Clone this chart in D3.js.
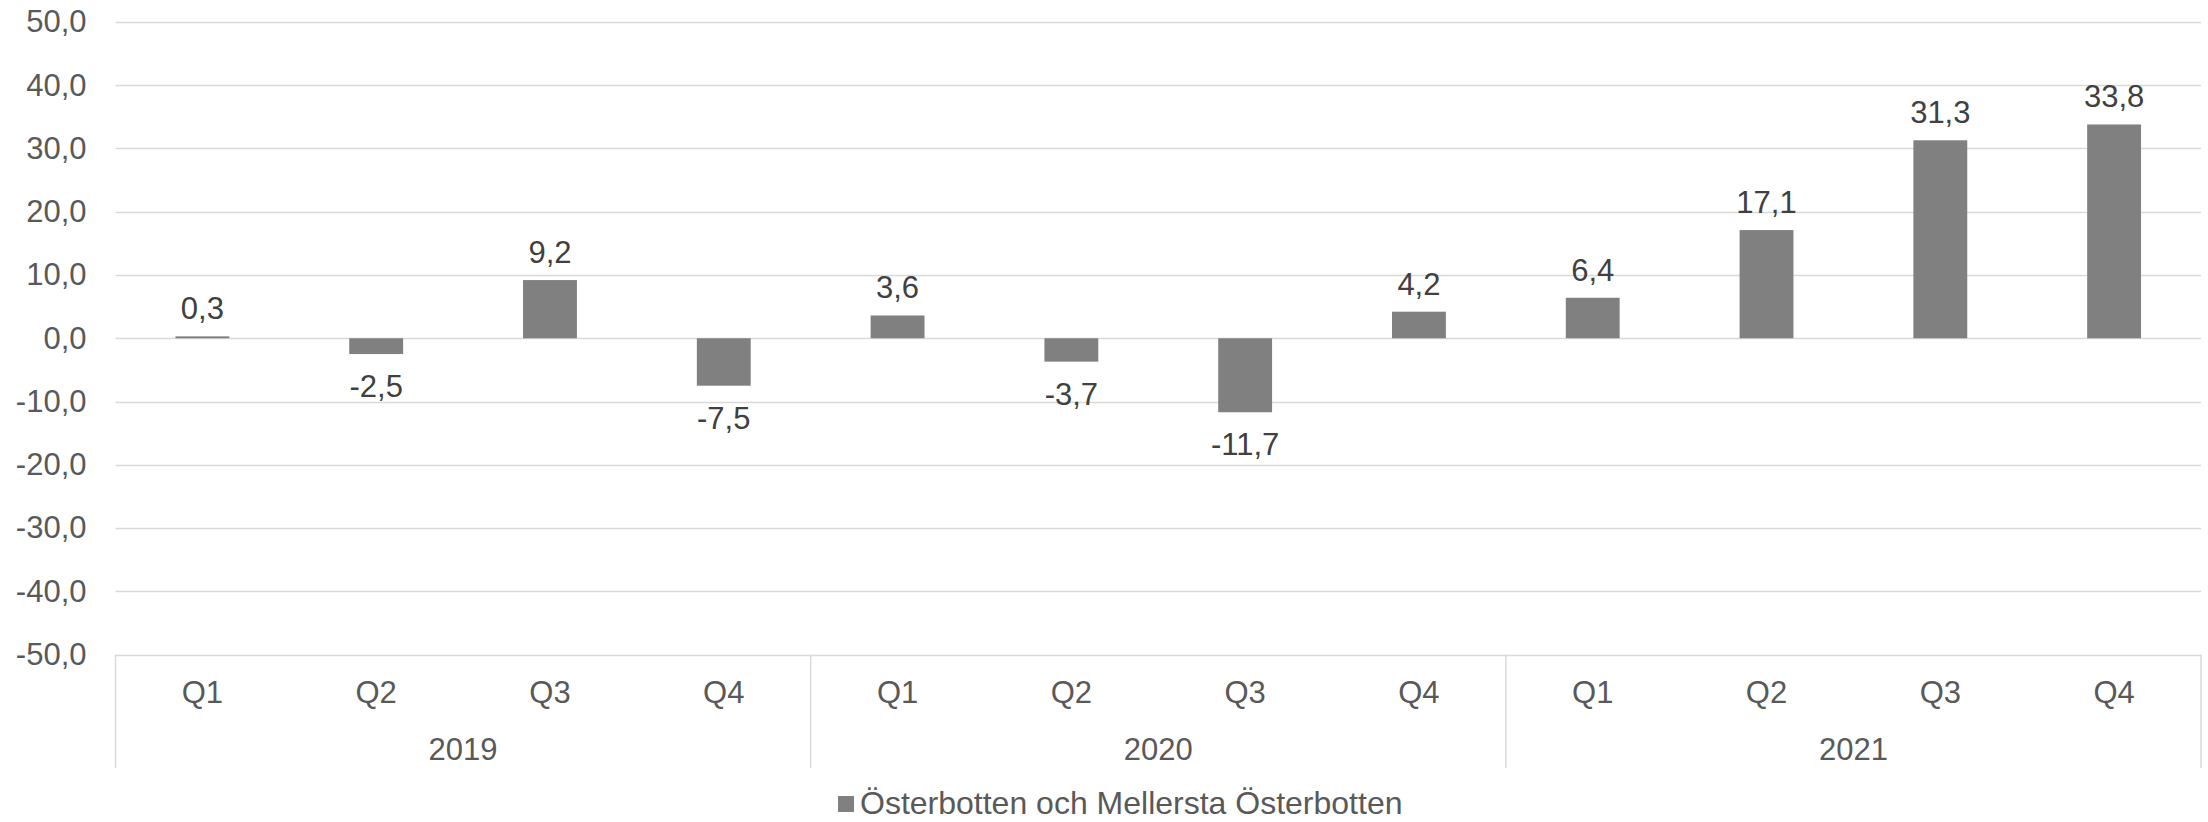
<!DOCTYPE html>
<html>
<head>
<meta charset="utf-8">
<script src="https://cdn.jsdelivr.net/npm/d3@7"></script>
<style>
  html, body { margin: 0; padding: 0; background: #ffffff; }
  svg { display: block; }
  text { font-family: "Liberation Sans", Arial, sans-serif; }
</style>
</head>
<body>
<svg id="chart" width="2208" height="822"></svg>
<script>
// ---- Data ----
const quarters = ["Q1", "Q2", "Q3", "Q4", "Q1", "Q2", "Q3", "Q4", "Q1", "Q2", "Q3", "Q4"];
const years = ["2019", "2020", "2021"];
const values = [0.3, -2.5, 9.2, -7.5, 3.6, -3.7, -11.7, 4.2, 6.4, 17.1, 31.3, 33.8];
const yTicks = [-50, -40, -30, -20, -10, 0, 10, 20, 30, 40, 50];
const seriesName = "Österbotten och Mellersta Österbotten";

// ---- Layout ----
const W = 2208, H = 822;
const plot = { left: 115.5, right: 2201, top: 22, bottom: 654.5 };
const FS = 31;

const svg = d3.select("#chart");

const keys = quarters.map((q, i) => years[Math.floor(i / 4)] + "-" + q);

const x = d3.scaleBand()
  .domain(keys)
  .range([plot.left, plot.right])
  .paddingInner(0.69)
  .paddingOuter(0.345);

const y = d3.scaleLinear()
  .domain([-50, 50])
  .range([plot.bottom, plot.top]);

const loc = d3.formatLocale({ decimal: ",", thousands: " ", grouping: [3], currency: ["", ""], minus: "-" });
const fmt = loc.format(".1f");

// Gridlines
svg.append("g")
  .selectAll("line")
  .data(yTicks)
  .join("line")
  .attr("x1", plot.left)
  .attr("x2", plot.right)
  .attr("y1", d => Math.round(y(d)) + 0.5)
  .attr("y2", d => Math.round(y(d)) + 0.5)
  .attr("stroke", "#d9d9d9")
  .attr("stroke-width", 1.5);

// Y axis labels
const yAxis = d3.axisLeft(y).tickValues(yTicks).tickFormat(fmt).tickSize(0).tickPadding(29);
const gy = svg.append("g").attr("transform", `translate(${plot.left},0)`).call(yAxis);
gy.select(".domain").remove();
gy.selectAll("text")
  .attr("font-size", FS)
  .attr("fill", "#595959")
  .attr("font-family", "'Liberation Sans', Arial, sans-serif");

// Bars
svg.append("g")
  .selectAll("rect")
  .data(values)
  .join("rect")
  .attr("x", (d, i) => x(keys[i]))
  .attr("width", x.bandwidth())
  .attr("y", d => y(Math.max(0, d)))
  .attr("height", d => Math.abs(y(d) - y(0)))
  .attr("fill", "#808080");

// Data labels
svg.append("g")
  .selectAll("text")
  .data(values)
  .join("text")
  .attr("x", (d, i) => x(keys[i]) + x.bandwidth() / 2)
  .attr("y", d => d >= 0 ? y(d) - 17 : y(d) + 43)
  .attr("text-anchor", "middle")
  .attr("font-size", FS)
  .attr("fill", "#404040")
  .text(d => fmt(d));

// X axis: quarter labels
svg.append("g")
  .selectAll("text")
  .data(quarters)
  .join("text")
  .attr("x", (d, i) => x(keys[i]) + x.bandwidth() / 2)
  .attr("y", 703)
  .attr("text-anchor", "middle")
  .attr("font-size", FS)
  .attr("fill", "#595959")
  .text(d => d);

// Year group separators
const step = x.step();
const sepXs = d3.range(0, years.length + 1).map(g => plot.left + g * 4 * step);
svg.append("g")
  .selectAll("line")
  .data(sepXs)
  .join("line")
  .attr("x1", d => d)
  .attr("x2", d => d)
  .attr("y1", y(-50))
  .attr("y2", 768)
  .attr("stroke", "#d9d9d9")
  .attr("stroke-width", 1.5);

// Year labels
svg.append("g")
  .selectAll("text")
  .data(years)
  .join("text")
  .attr("x", (d, g) => plot.left + (g * 4 + 2) * step)
  .attr("y", 760)
  .attr("text-anchor", "middle")
  .attr("font-size", FS)
  .attr("fill", "#595959")
  .text(d => d);

// Legend
const legend = svg.append("g");
legend.append("rect")
  .attr("x", 838)
  .attr("y", 796)
  .attr("width", 16)
  .attr("height", 16)
  .attr("fill", "#808080");
legend.append("text")
  .attr("x", 860)
  .attr("y", 814)
  .attr("font-size", 32)
  .attr("fill", "#595959")
  .text(seriesName);
</script>
</body>
</html>
